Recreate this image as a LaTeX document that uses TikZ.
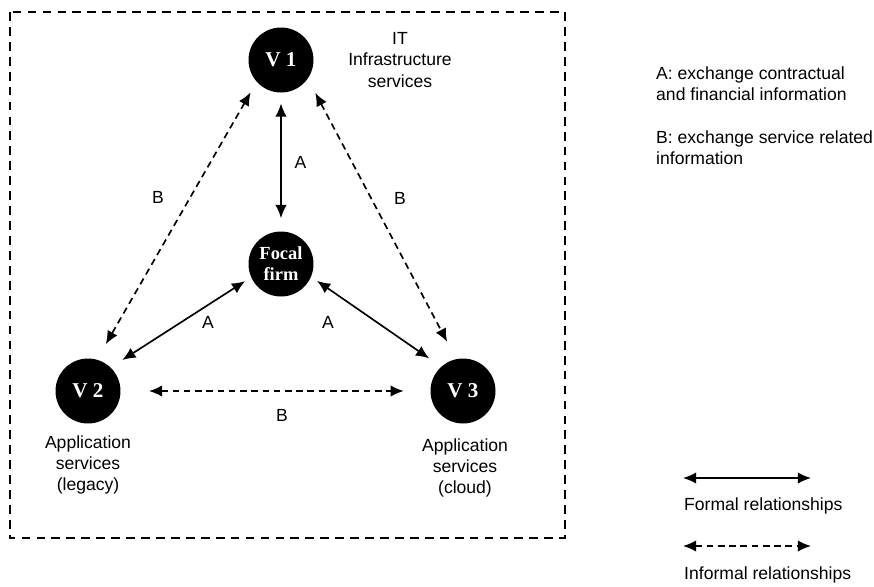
\documentclass[tikz,border=0pt]{standalone}
\usepackage{fontspec}
\setmainfont{Liberation Sans}
\newfontfamily\vendorfont{Liberation Serif}
\usetikzlibrary{arrows.meta}

\begin{document}
\begin{tikzpicture}[x=0.02cm,y=-0.02cm,
		>={Latex[length=7.5pt,width=6.5pt]},
		every node/.style={font=\fontsize{10}{12}\selectfont},
		vendor/.style={circle,fill=black,text=white,minimum size=1.3cm,inner sep=0pt,align=center,
			font=\vendorfont\bfseries\fontsize{12}{12}\selectfont},
		formal/.style={<->,line width=0.95pt},
		informal/.style={formal,dash pattern=on 3.8pt off 2.6pt},
		caption/.style={align=center}]
		\useasboundingbox (0,0) rectangle (874,586);
		\draw[line width=0.9pt,dash pattern=on 5pt off 3.5pt] (10,12) rectangle (565,538);

		\node[vendor] (v1) at (281,60) {V 1};
		\node[vendor,font=\vendorfont\bfseries\fontsize{10.5}{12}\selectfont] (firm) at (281,264) {Focal\\firm};
		\node[vendor] (v2) at (88,391) {V 2};
		\node[vendor] (v3) at (463,391) {V 3};

		\node[caption] (c1) at (400,60) {IT\\Infrastructure\\services};
		\node[caption] (c2) at (88,465) {Application\\services\\(legacy)};
		\node[caption] (c3) at (465,468) {Application\\services\\(cloud)};

		\draw[formal,shorten <=6pt,shorten >=7.4pt] (v1.south) -- (firm.north) node[pos=0.5,right=4pt] (a1) {A};
		\draw[formal,shorten <=4pt,shorten >=7.8pt] (firm.204) -- (v2.46);
		\draw[formal,shorten <=4pt,shorten >=8.2pt] (firm.337) -- (v3.132);
		\draw[informal,shorten <=6.8pt,shorten >=10pt] (v1.222) -- (v2.74);
		\draw[informal,shorten <=9pt,shorten >=11pt] (v1.325) -- (v3.102);
		\draw[informal,shorten <=16pt,shorten >=15pt] (v2.east) -- (v3.west);

		\node (a2) at (208,322) {A};
		\node (a3) at (328,322) {A};
		\node (b1) at (158,197) {B};
		\node (b2) at (400,198) {B};
		\node (b3) at (282,415) {B};

		% legend
		\node[anchor=west,align=left] (la) at (650,84) {A: exchange contractual\\and financial information};
		\node[anchor=west,align=left] (lb) at (650,148) {B: exchange service related\\information};
		\coordinate (f1) at (683,478);
		\coordinate (f2) at (811,478);
		\coordinate (i1) at (683,546);
		\coordinate (i2) at (811,546);
		\draw[formal] (f1) -- (f2);
		\draw[informal] (i1) -- (i2);
		\node[anchor=west] (lf) at (678,506) {Formal relationships};
		\node[anchor=west] (li) at (678,575) {Informal relationships};
	\end{tikzpicture}
\end{document}
